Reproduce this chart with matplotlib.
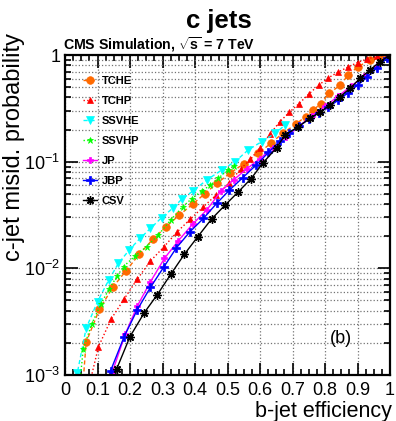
import matplotlib
matplotlib.use("Agg")
import matplotlib.pyplot as plt
import numpy as np
from matplotlib.ticker import FixedLocator, AutoMinorLocator, LogLocator, NullFormatter

plt.rcParams['font.family'] = ['Liberation Sans', 'DejaVu Sans']
plt.rcParams['mathtext.fontset'] = 'custom'
plt.rcParams['mathtext.rm'] = 'Liberation Sans'
plt.rcParams['mathtext.bf'] = 'Liberation Sans:bold'
plt.rcParams['mathtext.it'] = 'Liberation Sans:italic'

# b-jet efficiency (x) vs c-jet misid. probability (y)
tche_x = [0.055, 0.065, 0.106, 0.147, 0.188, 0.229, 0.27, 0.311, 0.352, 0.393, 0.43, 0.467,
          0.508, 0.551, 0.595, 0.634, 0.67, 0.711, 0.74, 0.764, 0.787, 0.813, 0.846, 0.872,
          0.902, 0.938, 0.97, 1.0]
tche_y = [8e-4, 2.03e-3, 4.13e-3, 6.64e-3, 9.5e-3, 1.36e-2, 1.87e-2, 2.46e-2, 3.16e-2, 4.0e-2,
          5.0e-2, 6.25e-2, 7.8e-2, 9.6e-2, 0.12, 0.149, 0.185, 0.225, 0.265, 0.305, 0.35, 0.437,
          0.52, 0.65, 0.78, 0.89, 0.97, 1.0]

tchp_x = [0.07, 0.103, 0.142, 0.182, 0.222, 0.263, 0.305, 0.346, 0.385, 0.426, 0.466, 0.505,
          0.54, 0.57, 0.60, 0.63, 0.66, 0.69, 0.72, 0.75, 0.78, 0.81, 0.84, 0.87, 0.90, 0.93,
          0.96, 0.99]
tchp_y = [7e-4, 1.84e-3, 3.35e-3, 5.16e-3, 7.9e-3, 1.17e-2, 1.6e-2, 2.21e-2, 2.88e-2, 3.78e-2,
          4.9e-2, 6.3e-2, 8.5e-2, 0.105, 0.135, 0.18, 0.235, 0.29, 0.35, 0.43, 0.52, 0.61, 0.69,
          0.77, 0.85, 0.92, 0.97, 1.0]

ssvhe_x = [0.03, 0.038, 0.065, 0.1, 0.135, 0.164, 0.198, 0.231, 0.263, 0.297, 0.331, 0.359,
           0.395, 0.436, 0.482, 0.523, 0.564, 0.605, 0.646, 0.677]
ssvhe_y = [7e-4, 1.05e-3, 2.74e-3, 4.87e-3, 7.8e-3, 1.11e-2, 1.49e-2, 1.91e-2, 2.37e-2, 2.98e-2,
           3.65e-2, 4.44e-2, 5.35e-2, 6.73e-2, 8.35e-2, 0.1, 0.129, 0.154, 0.184, 0.22]

ssvhp_x = [0.045, 0.056, 0.082, 0.11, 0.135, 0.16, 0.18, 0.215, 0.251, 0.287, 0.325, 0.362,
           0.39, 0.42, 0.446, 0.472, 0.50, 0.52]
ssvhp_y = [8e-4, 1.74e-3, 3.0e-3, 4.6e-3, 6.36e-3, 8.4e-3, 1.04e-2, 1.3e-2, 1.6e-2, 2.05e-2,
           2.84e-2, 3.78e-2, 4.5e-2, 5.3e-2, 5.98e-2, 7.0e-2, 8.3e-2, 9.2e-2]

jp_x = [0.135, 0.145, 0.185, 0.222, 0.262, 0.306, 0.349, 0.393, 0.436, 0.48, 0.52, 0.56, 0.6,
        0.64, 0.68, 0.72, 0.76, 0.8, 0.84, 0.88, 0.92, 0.96, 1.0]
jp_y = [8e-4, 1.05e-3, 2.4e-3, 4.4e-3, 7.4e-3, 1.24e-2, 1.82e-2, 2.6e-2, 3.52e-2, 5.3e-2, 6.8e-2,
        8.6e-2, 0.107, 0.135, 0.17, 0.215, 0.27, 0.33, 0.41, 0.51, 0.63, 0.79, 1.0]

jbp_x = [0.13, 0.14, 0.182, 0.222, 0.263, 0.305, 0.343, 0.385, 0.426, 0.467, 0.506, 0.547, 0.588,
         0.626, 0.66, 0.69, 0.72, 0.75, 0.78, 0.81, 0.84, 0.87, 0.90, 0.93, 0.96, 0.99, 1.01]
jbp_y = [8e-4, 1.09e-3, 2.29e-3, 4.07e-3, 6.64e-3, 1.04e-2, 1.56e-2, 2.21e-2, 2.94e-2, 4.07e-2,
         5.42e-2, 7.08e-2, 9.3e-2, 0.122, 0.155, 0.185, 0.215, 0.25, 0.285, 0.325, 0.375, 0.44,
         0.52, 0.62, 0.76, 0.93, 1.02]

csv_x = [0.15, 0.159, 0.2, 0.244, 0.284, 0.326, 0.367, 0.408, 0.451, 0.492, 0.533, 0.572, 0.61,
         0.651, 0.677, 0.718, 0.754, 0.785, 0.815, 0.846, 0.877, 0.908, 0.938, 0.969, 1.0]
csv_y = [8e-4, 1.14e-3, 2.29e-3, 3.84e-3, 5.66e-3, 8.85e-3, 1.35e-2, 1.97e-2, 2.9e-2, 3.9e-2,
         5.2e-2, 6.9e-2, 9.8e-2, 0.135, 0.178, 0.213, 0.255, 0.292, 0.34, 0.406, 0.487, 0.604,
         0.723, 0.865, 1.0]

x_ticks = [0, 0.1, 0.2, 0.3, 0.4, 0.5, 0.6, 0.7, 0.8, 0.9, 1]
x_tick_labels = ['0', '0.1', '0.2', '0.3', '0.4', '0.5', '0.6', '0.7', '0.8', '0.9', '1']
y_ticks = [1e-3, 1e-2, 1e-1, 1]
y_tick_labels = ['$10^{-3}$', '$10^{-2}$', '$10^{-1}$', '1']

fig = plt.figure(figsize=(3.96, 4.21), dpi=100)
ax = fig.add_axes([65 / 396, 1 - 375 / 421, 325 / 396, 320 / 421])

series = [
    (tche_x, tche_y, 'TCHE', '#ff6a00', (0, (3, 2)), 'o', 5.5),
    (tchp_x, tchp_y, 'TCHP', '#ff0000', ':', '^', 5),
    (ssvhe_x, ssvhe_y, 'SSVHE', '#00ffff', (0, (3, 2)), 'v', 6),
    (ssvhp_x, ssvhp_y, 'SSVHP', '#00ff00', ':', '*', 5),
    (jp_x, jp_y, 'JP', '#ff00ff', '-', 'P', 4.5),
    (jbp_x, jbp_y, 'JBP', '#0000ff', '-', 'P', 6),
    (csv_x, csv_y, 'CSV', '#000000', '-', (8, 2, 0), 6),
]
for xs, ys, lab, col, ls, mk, ms in series:
    ax.plot(xs, ys, color=col, linestyle=ls, linewidth=1.0, marker=mk, markersize=ms,
            markeredgewidth=1.0 if mk == (8, 2, 0) else 0.5, markeredgecolor=col, label=lab)

ax.set_yscale('log')
ax.set_xlim(0, 1)
ax.set_ylim(1e-3, 1)

ax.xaxis.set_major_locator(FixedLocator(x_ticks))
ax.set_xticklabels(x_tick_labels)
ax.xaxis.set_minor_locator(AutoMinorLocator(4))
ax.yaxis.set_major_locator(FixedLocator(y_ticks))
ax.set_yticklabels(y_tick_labels)
ax.yaxis.set_minor_locator(LogLocator(base=10, subs=np.arange(2, 10)))
ax.yaxis.set_minor_formatter(NullFormatter())

ax.tick_params(which='both', direction='in', top=True, right=True, labelsize=13, width=1.2)
ax.tick_params(which='major', length=9)
ax.tick_params(which='minor', length=4.5)
ax.tick_params(axis='x', pad=5)
for s in ax.spines.values():
    s.set_linewidth(1.6)

ax.grid(True, which='major', axis='x', color='0.45', linestyle=':', linewidth=0.9)
ax.grid(True, which='both', axis='y', color='0.45', linestyle=':', linewidth=0.9)
ax.set_axisbelow(True)

fig.text(392 / 396, 1 - 417 / 421, 'b-jet efficiency', fontsize=15.5, ha='right',
         va='baseline')
fig.text(14 / 396, 1 - 33 / 421, 'c-jet misid. probability', fontsize=17, rotation=90,
         ha='center', va='top')

fig.text(219 / 396, 1 - 28 / 421, 'c jets', fontsize=18.5, fontweight='bold',
         ha='center', va='baseline')
fig.text(63 / 396, 1 - 49 / 421, r'CMS Simulation, $\mathbf{\sqrt{s}}$ = 7 TeV',
         fontsize=10.2, fontweight='bold', ha='left', va='baseline')
ax.text(0.85, 0.115, '(b)', transform=ax.transAxes, fontsize=13, ha='center', va='center')

leg = ax.legend(loc='upper left', bbox_to_anchor=(0.055, 0.935), frameon=False,
                prop={'weight': 'bold', 'size': 8}, handlelength=1.25, handletextpad=0.45,
                labelspacing=0.9, borderpad=0, borderaxespad=0)

fig.savefig('out.png', dpi=100)
